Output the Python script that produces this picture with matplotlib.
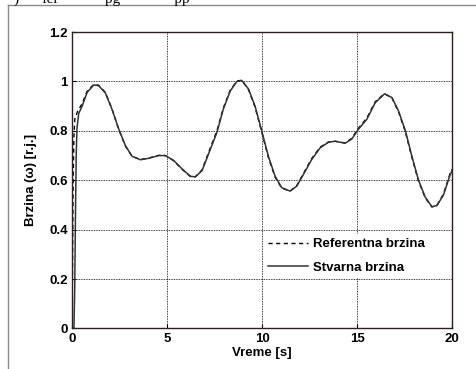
import matplotlib
matplotlib.use("Agg")
import matplotlib.pyplot as plt
from matplotlib.ticker import FormatStrFormatter
from matplotlib.lines import Line2D

t_act = [0.0, 0.10, 0.14, 0.18, 0.22, 0.26, 0.35, 0.53, 0.79, 1.14, 1.40, 1.75,
         2.10, 2.46, 2.81, 3.16, 3.60, 4.04, 4.56, 4.91, 5.35, 5.79, 6.23, 6.49,
         6.84, 7.18, 7.62, 7.96, 8.32, 8.67, 8.93, 9.28, 9.63, 9.98, 10.33, 10.68,
         11.03, 11.47, 11.82, 12.17, 12.61, 13.05, 13.49, 13.84, 14.37, 14.72,
         15.07, 15.51, 15.95, 16.44, 16.83, 17.18, 17.54, 17.88, 18.23, 18.58,
         18.93, 19.19, 19.54, 19.88, 20.0]
w_act = [0.0, 0.0, 0.15, 0.45, 0.70, 0.81, 0.87, 0.90, 0.955, 0.986, 0.983, 0.954,
         0.888, 0.807, 0.740, 0.697, 0.683, 0.689, 0.700, 0.700, 0.680, 0.646, 0.616, 0.614,
         0.639, 0.706, 0.793, 0.888, 0.961, 1.000, 1.004, 0.970, 0.900, 0.800, 0.697, 0.617,
         0.570, 0.556, 0.576, 0.623, 0.684, 0.731, 0.754, 0.758, 0.750, 0.767,
         0.807, 0.847, 0.914, 0.950, 0.935, 0.880, 0.800, 0.697, 0.600, 0.532,
         0.493, 0.497, 0.540, 0.620, 0.640]

# reference speed (Referentna brzina)
t_ref = [0.0, 0.03, 0.06, 0.10, 0.15, 0.30, 0.53, 0.79, 1.14, 1.40, 1.75,
         2.10, 2.46, 2.81, 3.16, 3.60, 4.04, 4.56, 4.91, 5.35, 5.79, 6.23, 6.49,
         6.84, 7.18, 7.62, 7.96, 8.32, 8.67, 8.93, 9.28, 9.63, 9.98, 10.33, 10.68,
         11.03, 11.47, 11.82, 12.17, 12.61, 13.05, 13.49, 13.84, 14.37, 14.72,
         15.07, 15.51, 15.95, 16.44, 16.83, 17.18, 17.54, 17.88, 18.23, 18.58,
         18.93, 19.19, 19.54, 19.88, 20.0]
w_ref = [0.0, 0.30, 0.60, 0.78, 0.85, 0.88, 0.91, 0.96, 0.988, 0.985, 0.956,
         0.890, 0.805, 0.738, 0.697, 0.684, 0.690, 0.701, 0.700, 0.679, 0.644, 0.615, 0.614,
         0.642, 0.712, 0.800, 0.893, 0.964, 1.002, 1.005, 0.968, 0.896, 0.795, 0.692, 0.613,
         0.568, 0.556, 0.578, 0.627, 0.688, 0.734, 0.755, 0.758, 0.751, 0.770,
         0.811, 0.852, 0.918, 0.951, 0.933, 0.876, 0.795, 0.692, 0.596, 0.529,
         0.492, 0.498, 0.544, 0.625, 0.645]

plt.rcParams['font.family'] = ['Liberation Sans', 'DejaVu Sans']
plt.rcParams['font.weight'] = 'bold'
plt.rcParams['axes.labelweight'] = 'bold'

fig = plt.figure(figsize=(4.77, 3.69), dpi=100)
ax = fig.add_axes([0.151, 0.110, 0.797, 0.803])

ax.plot(t_ref, w_ref, color='black', linestyle=(0, (3, 2.5)), linewidth=1.0,
        label='Referentna brzina')
ax.plot(t_act, w_act, color='#333333', linestyle='-', linewidth=1.1,
        label='Stvarna brzina')

ax.set_xlim(0, 20)
ax.set_ylim(0, 1.2)
ax.set_xticks([0, 5, 10, 15, 20])
ax.set_yticks([0, 0.2, 0.4, 0.6, 0.8, 1.0, 1.2])
ax.yaxis.set_major_formatter(FormatStrFormatter('%g'))
ax.grid(True, color='black', linestyle=(0, (1, 1)), linewidth=0.6)
ax.tick_params(direction='in', length=3, labelsize=9.5, pad=3)
for s in ax.spines.values():
    s.set_color('#2a2020')
    s.set_linewidth(1.0)

ax.set_xlabel('Vreme [s]', fontsize=9.5, labelpad=2)
ax.set_ylabel('Brzina (ω) [r.j.]', fontsize=9.5, labelpad=9)

leg = ax.legend(loc='center left', bbox_to_anchor=(0.505, 0.245), fontsize=9.5,
                handlelength=3.0, handletextpad=0.4, labelspacing=0.85,
                borderaxespad=0, borderpad=0.3, frameon=True, fancybox=False)
leg.get_frame().set_facecolor('white')
leg.get_frame().set_edgecolor('none')
leg.get_frame().set_alpha(1)

# page border lines from the scanned document
fig.add_artist(Line2D([0.017, 0.017], [0.0, 0.986], transform=fig.transFigure,
                      color='#8a8a8a', linewidth=1.0))
fig.add_artist(Line2D([0.017, 1.0], [0.986, 0.986], transform=fig.transFigure,
                      color='#8a8a8a', linewidth=1.0))
# cut-off caption line at the top of the scanned page
fig.text(0.03, 1.003, ')      ler            pg              pp', fontsize=11,
         family='Liberation Serif', fontweight='normal', va='center', ha='left')

fig.savefig('out.png', dpi=100)
